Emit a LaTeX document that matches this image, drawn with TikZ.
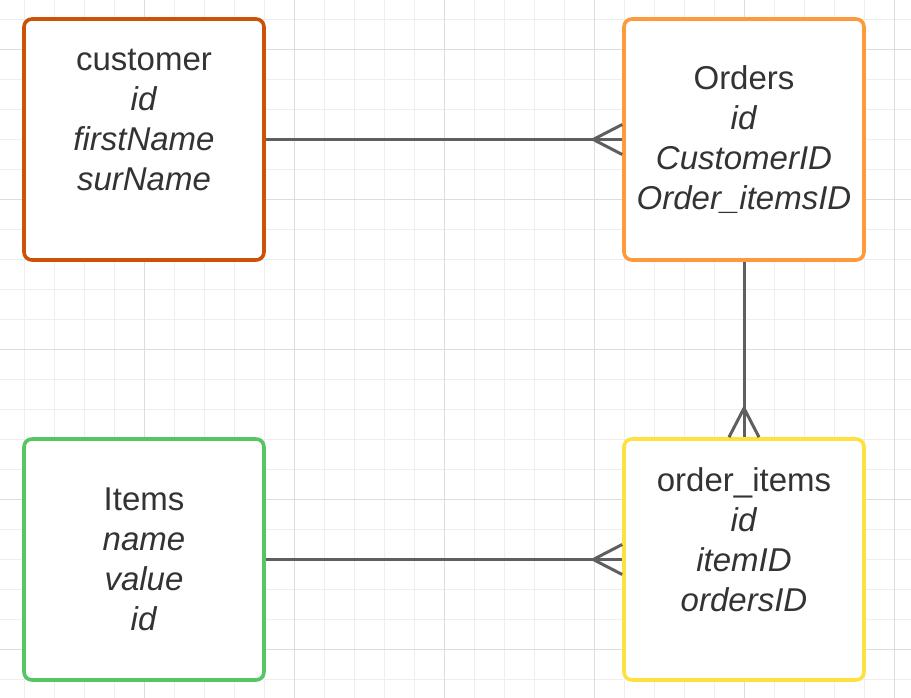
\documentclass[tikz,border=0pt]{standalone}
\usepackage{fontspec}
\setmainfont{Liberation Sans}
\definecolor{gridminor}{HTML}{EEEEEE}
\definecolor{gridmajor}{HTML}{DDDDDD}
\definecolor{txt}{HTML}{333333}
\definecolor{lnk}{HTML}{5F5F5F}
\definecolor{custc}{HTML}{CC5208}
\definecolor{ordc}{HTML}{FF9A3C}
\definecolor{itemc}{HTML}{55C662}
\definecolor{oitc}{HTML}{FFE03F}
\tikzset{
  entity/.style={draw, line width=3.6pt, rounded corners=8pt, fill=white,
    minimum width=240pt, minimum height=241pt, inner sep=0pt,
    align=center, text=txt,
    font=\fontsize{33pt}{40pt}\selectfont},
  conn/.style={draw=lnk, line width=3pt},
}
\begin{document}
\begin{tikzpicture}[x=1pt,y=-1pt]
\useasboundingbox (0,0) rectangle (911,698);
\fill[white] (0,0) rectangle (911,698);
% background grid
\foreach \k in {0,...,30} {
  \draw[gridminor, line width=1pt] (24.3+30*\k,0) -- (24.3+30*\k,698);
  \draw[gridminor, line width=1pt] (0,19.3+30*\k) -- (911,19.3+30*\k);
}
\foreach \k in {-1,...,6} {
  \draw[gridmajor, line width=1pt] (144.3+150*\k,0) -- (144.3+150*\k,698);
  \draw[gridmajor, line width=1pt] (0,49.3+150*\k) -- (911,49.3+150*\k);
}
% entities
\node[entity, draw=custc] (customer) at (144,139.5)
  {customer\\ \textit{id}\\ \textit{firstName}\\ \textit{surName}\\ \mbox{}};
\node[entity, draw=ordc] (orders) at (744,139.5)
  {Orders\\ \textit{id}\\ \textit{CustomerID}\\ \textit{Order\_itemsID}};
\node[entity, draw=itemc] (items) at (144,559.5)
  {Items\\ \textit{name}\\ \textit{value}\\ \textit{id}};
\node[entity, draw=oitc] (orderitems) at (744,559.5)
  {order\_items\\ \textit{id}\\ \textit{itemID}\\ \textit{ordersID}\\ \mbox{}};
% relationships with crow's feet on the many side
\draw[conn] (customer.east) -- (orders.west);
\draw[conn] ([yshift=15pt]orders.west) -- ([xshift=-29pt]orders.west) -- ([yshift=-15pt]orders.west);
\draw[conn] (orders.south) -- (orderitems.north);
\draw[conn] ([xshift=-15pt]orderitems.north) -- ([yshift=29pt]orderitems.north) -- ([xshift=15pt]orderitems.north);
\draw[conn] (items.east) -- (orderitems.west);
\draw[conn] ([yshift=15pt]orderitems.west) -- ([xshift=-29pt]orderitems.west) -- ([yshift=-15pt]orderitems.west);
\end{tikzpicture}
\end{document}
